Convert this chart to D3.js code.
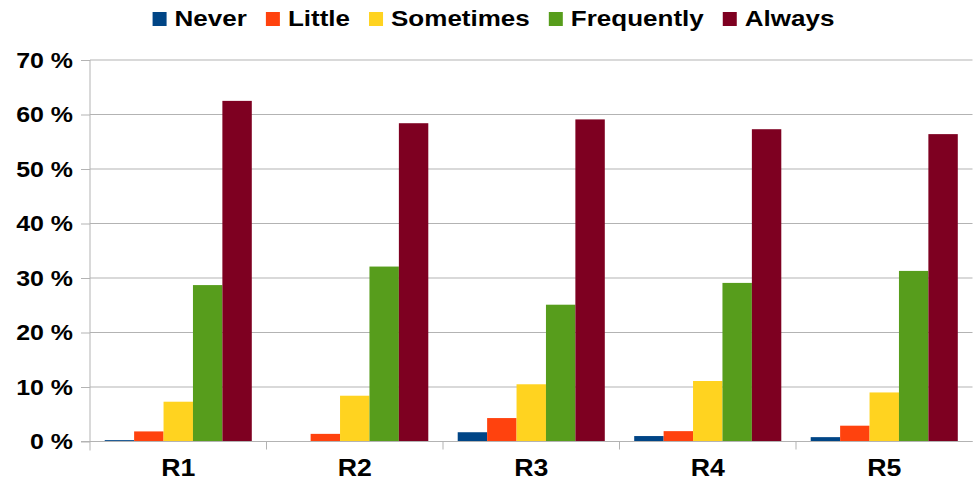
<!DOCTYPE html>
<html>
<head>
<meta charset="utf-8">
<script src="https://cdn.jsdelivr.net/npm/d3@7"></script>
<style>
  html, body { margin: 0; padding: 0; background: #ffffff; }
  svg { display: block; }
  text { font-family: "Liberation Sans", Arial, sans-serif; font-weight: bold; fill: #000; }
</style>
</head>
<body>
<svg id="chart" width="973" height="481"></svg>
<script>
// Response categories per item
const categories = ["R1", "R2", "R3", "R4", "R5"];
const seriesNames = ["Never", "Little", "Sometimes", "Frequently", "Always"];
const seriesColors = ["#004586", "#ff420e", "#ffd320", "#579d1c", "#7e0021"];

// Share of answers (%) per category, one array per series
const never      = [0.25, 0.0, 1.7, 1.0, 0.8];
const little     = [1.85, 1.4, 4.3, 1.9, 2.9];
const sometimes  = [7.3, 8.4, 10.5, 11.1, 9.0];
const frequently = [28.7, 32.1, 25.1, 29.1, 31.3];
const always     = [62.5, 58.4, 59.1, 57.3, 56.4];

const yTicks = [0, 10, 20, 30, 40, 50, 60, 70];
const yTickLabels = ["0 %", "10 %", "20 %", "30 %", "40 %", "50 %", "60 %", "70 %"];

const seriesValues = [never, little, sometimes, frequently, always];

const svg = d3.select("#chart");
const margin = { left: 90, right: 0.5, top: 60, bottom: 39.5 };
const W = 973, H = 481;
const stretch = 1.16;        // horizontal widening of axis label glyphs
const legendStretch = 1.21;  // same for the legend entries

const x0 = d3.scaleBand().domain(categories).range([margin.left, W - margin.right]).padding(0);
const x1 = d3.scaleBand().domain(seriesNames).range([0, x0.bandwidth()])
  .paddingInner(0).paddingOuter(0.5);
const y = d3.scaleLinear().domain([0, 70]).range([H - margin.bottom, margin.top]);

const grid = "#b3b3b3";

// horizontal gridlines
svg.append("g").selectAll("line").data(yTicks).join("line")
  .attr("x1", margin.left).attr("x2", W - margin.right)
  .attr("y1", d => y(d)).attr("y2", d => y(d))
  .attr("stroke", grid).attr("stroke-width", 1);

// bars
const groups = svg.append("g").selectAll("g").data(categories).join("g")
  .attr("transform", c => `translate(${x0(c)},0)`);
groups.selectAll("rect")
  .data((c, ci) => seriesNames.map((s, si) => ({ s, si, v: seriesValues[si][ci] })))
  .join("rect")
  .attr("x", d => x1(d.s))
  .attr("width", x1.bandwidth())
  .attr("y", d => y(d.v))
  .attr("height", d => y(0) - y(d.v))
  .attr("fill", d => seriesColors[d.si]);

// y axis
const yAxis = d3.axisLeft(y).tickValues(yTicks).tickSize(9).tickFormat(() => "");
const gy = svg.append("g").attr("transform", `translate(${margin.left},0)`).call(yAxis);
gy.select(".domain").remove();
gy.selectAll(".tick line").attr("stroke", grid);
svg.append("line")
  .attr("x1", margin.left).attr("x2", margin.left)
  .attr("y1", y(70)).attr("y2", y(0) + 9)
  .attr("stroke", grid);

// y tick labels
svg.append("g").selectAll("text").data(yTicks).join("text")
  .attr("transform", (d) => `translate(73,${y(d) + 7.5}) scale(${stretch},1)`)
  .attr("text-anchor", "end")
  .attr("font-size", 21.5)
  .text((d, i) => yTickLabels[i]);

// x axis
const xAxis = d3.axisBottom(x0).tickSize(0).tickFormat(() => "");
const gx = svg.append("g").attr("transform", `translate(0,${y(0)})`).call(xAxis);
gx.select(".domain").remove();
svg.append("line")
  .attr("x1", margin.left - 9).attr("x2", W - margin.right)
  .attr("y1", y(0)).attr("y2", y(0)).attr("stroke", grid);
svg.append("g").selectAll("line").data(categories.slice(1)).join("line")
  .attr("x1", c => x0(c)).attr("x2", c => x0(c))
  .attr("y1", y(0)).attr("y2", y(0) + 8)
  .attr("stroke", grid);

// category labels
svg.append("g").selectAll("text").data(categories).join("text")
  .attr("transform", c => `translate(${x0(c) + x0.bandwidth() / 2},${y(0) + 34.5}) scale(${stretch},1)`)
  .attr("text-anchor", "middle")
  .attr("font-size", 23)
  .text(c => c);

// legend
const legend = svg.append("g");
const items = legend.selectAll("g").data(seriesNames).join("g");
items.append("rect")
  .attr("width", 14).attr("height", 14).attr("y", 12)
  .attr("fill", (d, i) => seriesColors[i]);
items.append("text")
  .attr("font-size", 21.5)
  .attr("transform", `translate(22,26) scale(${legendStretch},1)`)
  .text(d => d);
const gap = 19;
let lx = 0;
const itemX = [];
items.each(function () {
  const w = this.querySelector("text").getComputedTextLength() * legendStretch;
  itemX.push(lx);
  lx += 22 + w + gap;
});
const totalW = lx - gap;
const startX = 493.5 - totalW / 2;
items.attr("transform", (d, i) => `translate(${startX + itemX[i]},0)`);
</script>
</body>
</html>
